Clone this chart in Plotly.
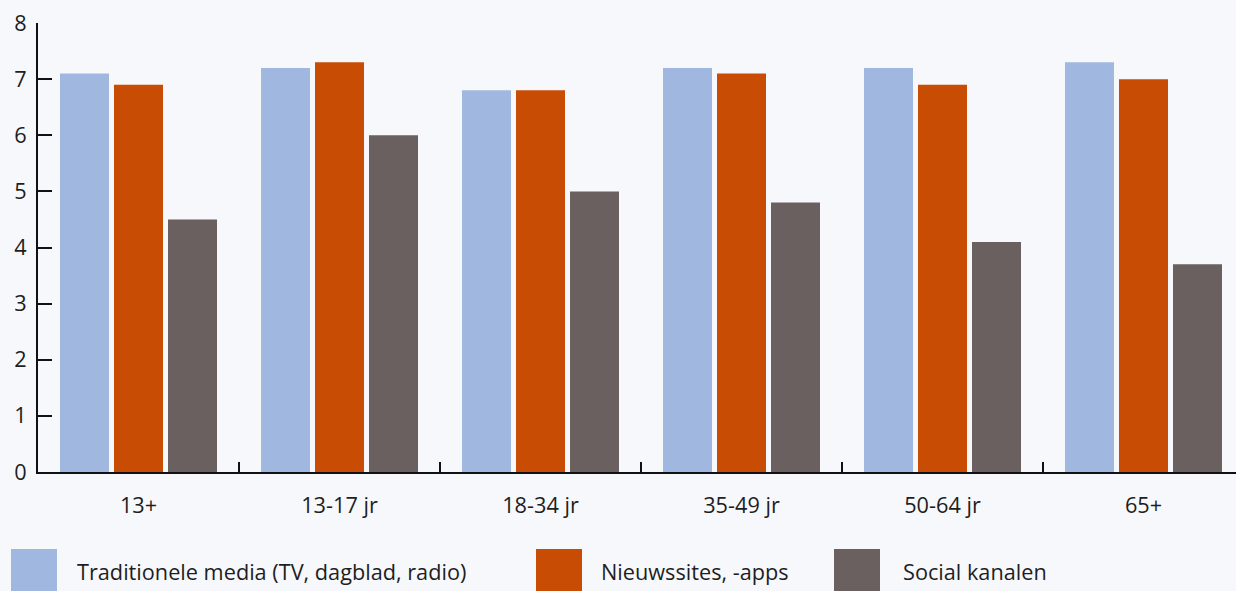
import plotly.graph_objects as go

# Age groups and average scores per news channel type
categories = ["13+", "13-17 jr", "18-34 jr", "35-49 jr", "50-64 jr", "65+"]
series_names = ["Traditionele media (TV, dagblad, radio)", "Nieuwssites, -apps", "Social kanalen"]
traditionele = [7.1, 7.2, 6.8, 7.2, 7.2, 7.3]
nieuwssites = [6.9, 7.3, 6.8, 7.1, 6.9, 7.0]
social = [4.5, 6.0, 5.0, 4.8, 4.1, 3.7]
y_ticks = [0, 1, 2, 3, 4, 5, 6, 7, 8]

colors = ["#A0B7E0", "#C84C04", "#6A6060"]
bg = "#F7F8FC"
text_color = "#1E1E1E"
font_family = "Open Sans, Noto Sans, sans-serif"
font_size = 21.7

W, H = 1236, 591
ML, MT, MB, MR = 38, 23, 119, 0
plot_w = W - ML - MR
plot_h = H - MT - MB
cat_px = 201  # pixel width of one category slot
x_max = -0.5 + plot_w / cat_px

fig = go.Figure()
for name, vals, col in zip(series_names, [traditionele, nieuwssites, social], colors):
    fig.add_trace(go.Bar(x=categories, y=vals, name=name, marker=dict(color=col, line=dict(width=0)),
                         showlegend=False))

# Legend drawn as swatches + labels below the plot area
legend_swatch_px = [11, 536, 834]
legend_text_px = [78, 602, 904]
sw_w, sw_h = 46, 44
sw_top = 549
for name, col, sx, tx in zip(series_names, colors, legend_swatch_px, legend_text_px):
    x0 = (sx - ML) / plot_w
    x1 = (sx + sw_w - ML) / plot_w
    y_top = (H - MB - sw_top) / plot_h
    y_bot = (H - MB - (sw_top + sw_h)) / plot_h
    fig.add_shape(type="rect", xref="paper", yref="paper", x0=x0, x1=x1, y0=y_bot, y1=y_top,
                  fillcolor=col, line=dict(width=0), layer="above")
    fig.add_annotation(xref="paper", yref="paper", x=(tx - 3 - ML) / plot_w,
                       y=(H - MB - 571) / plot_h, text=name, showarrow=False,
                       xanchor="left", yanchor="middle",
                       font=dict(size=font_size, color=text_color, family=font_family))

fig.update_layout(
    width=W, height=H,
    margin=dict(l=ML, r=MR, t=MT, b=MB, pad=0),
    paper_bgcolor=bg, plot_bgcolor=bg,
    barmode="group", bargap=0.194, bargroupgap=0.0926,
    font=dict(family=font_family, size=font_size, color=text_color),
)
fig.update_xaxes(
    range=[-0.5, x_max], showline=True, linecolor="#111111", linewidth=2,
    ticks="inside", tickson="boundaries", ticklen=10, tickwidth=2, tickcolor="#111111",
    showgrid=False, zeroline=False, ticklabelstandoff=13,
    tickfont=dict(size=font_size, color=text_color),
)
fig.update_yaxes(
    range=[0, 8], tickvals=y_ticks, showline=True, linecolor="#111111", linewidth=2,
    ticks="inside", ticklen=14, tickwidth=2, tickcolor="#111111",
    showgrid=False, zeroline=False, ticklabelstandoff=5,
    tickfont=dict(size=font_size, color=text_color),
)

fig.write_html("out.html")
